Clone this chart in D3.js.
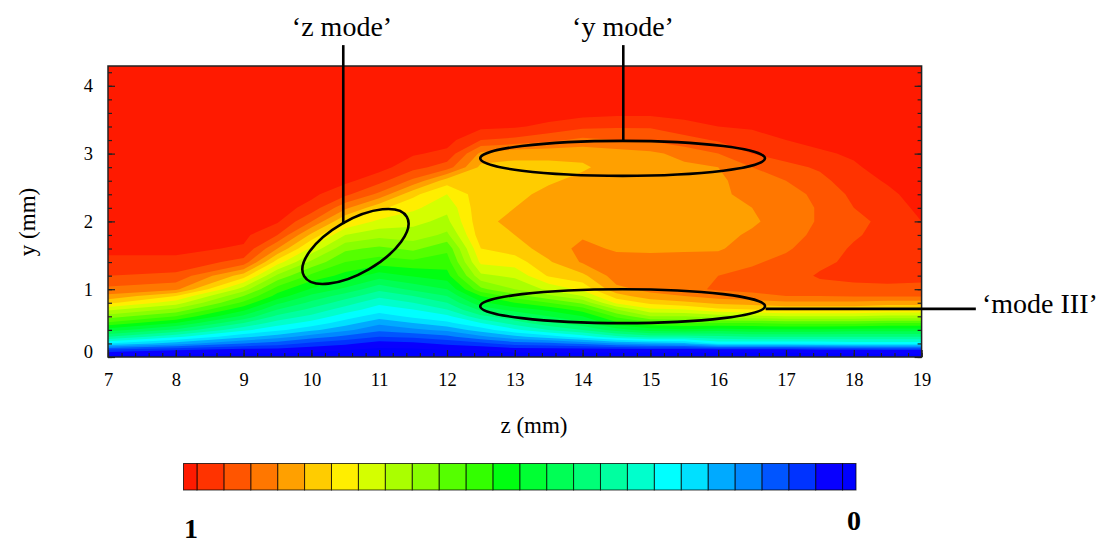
<!DOCTYPE html>
<html>
<head>
<meta charset="utf-8">
<script src="https://cdn.jsdelivr.net/npm/d3@7"></script>
<style>
  body { margin: 0; background: #fff; }
  text { font-family: "Liberation Serif", serif; fill: #000; }
</style>
</head>
<body>
<div class="chart"></div>
<script>
// grid of the contour field, values in percent (100 = "1" on the colour bar)
const zColumns = [7, 8, 9, 9.5, 10, 10.5, 11, 11.5, 12, 12.5, 13, 13.5, 14, 14.5, 15, 15.5, 16, 16.5, 17, 17.5, 18, 18.5, 19];
const yRows = [0, .1, .2, .3, .4, .5, .6, .7, .8, .9, 1, 1.2, 1.4, 1.6, 1.8, 2, 2.2, 2.4, 2.6, 2.8, 3, 3.2, 3.4, 3.6, 3.8, 4.3];

// one line per z column, bottom row first
const fieldByColumn = [
  [0,8,26,38,48,57,64,71,79,85,89, 94,97,99,100, 100,100,100,100,100, 100,100,100,100,100,100],
  [0,6,20,31,41,50,58,65,72,78,87, 93,97,99,100, 100,100,100,100,100, 100,100,100,100,100,100],
  [0,4,14,23,31,38,45,51,57,62,68, 80,92.5,97.5,99, 100,100,100,100,100, 100,100,100,100,100,100],
  [0,4,12,20,27,32,37,42,47,52.5,56, 65,76,86,94, 98.5,100,100,100,100, 100,100,100,100,100,100],
  [0,3,9,16,23,28.5,33,37,41,45,49.5, 57,65,73,81, 90,96.5,99,100,100, 100,100,100,100,100,100],
  [0,2,7,13,19,24,28,32,36,40,45, 52.5,58,63,70, 78,87,95,99,100, 100,100,100,100,100,100],
  [0,1,4,10,15,19,24,28,31,35,39, 48,56,61,67.5, 73,79,89,95.5,99.5, 100,100,100,100,100,100],
  [0,1,5,11,17,22,27,30,34,38,43, 50.5,57,63,68.5, 71,75,79,89,95.5, 98.5,100,100,100,100,100],
  [0,2,7,13,19,25,29,34,38,42,46, 52.5,56,59,65, 69,71,74,80,92, 97,99.5,100,100,100,100],
  [0,2,9,17,24,30,37,43,49,54,61, 69,75,78,80.5, 81,81,80.5,80.5,81, 85,94,99,100,100,100],
  [0,3,12,21,29,36,41,48,54,60,66, 71,76,80,82, 83,82,81,81,81, 83,93,98.5,100,100,100],
  [0,3,13,24,34,41,46,51,58,65,71, 78.5,81.5,84,85, 85,84,83,81.5,81, 83,91,97,100,100,100],
  [0,3,15,28,38,45,50,56,63,70,75, 81,86.5,87,85.5, 85,85,84,83,81.5, 83,89,95,99.5,100,100],
  [0,3,18,33,44,53,59,66,75,80,85, 88,87.5,85.5,85, 84.5,84,84,83.5,83.5, 84,90,94.5,99,100,100],
  [0,3,20,36,48,57,66,73,79,85,87, 89,87,85.5,85, 84.5,84.5,84,84,84, 85,90.5,94.5,99,100,100],
  [0,3,21,36,49,58,66,74,81,86,89, 89.5,87.5,85.5,85, 84.5,84.5,84.5,84.5,85, 87.5,92.5,96.5,99.5,100,100],
  [0,3,27,37,48,58,68,77,83,88,90.5, 90,88,85.5,85, 85,85,85,85,86, 90,94.5,98,100,100,100],
  [0,3,27,38,49,58,69,78,84,89,91, 91,89.5,88,86.5, 85.5,86,87.5,88.5,90, 94,96.5,98.5,100,100,100],
  [0,3,27,38,49,59,70,79,85,90,92, 92,91,89.5,88.5, 87.5,87.5,88.5,90,93, 95.5,98,99,100,100,100],
  [0,4,27,38,49,59,70,79,85,90,92.5, 94.5,93,92,91, 90.5,90.5,91,93,94.5, 97.5,99,100,100,100,100],
  [0,4,28,38,48,59,70,79,85,90.5,93, 95,95,94.5,93.5, 92.5,94,95,96,97.5, 98.5,100,100,100,100,100],
  [0,5,28,38,48,58,69,78,84,90.5,93, 95.5,96,96,95.5, 95.5,96,97,98.5,99.5, 100,100,100,100,100,100],
  [0,5,28,38,48,58,69,78,84,90.5,93, 95,96,96.5,97, 98,99,100,100,100, 100,100,100,100,100,100]
];

// bands from value 0 up to value 1
const bandColors = ['#0000ff', '#0800ff', '#0033ff', '#0055ff', '#0088ff', '#00aaff', '#00e0ff', '#00ffff', '#00ffcc', '#00ffa0',
  '#00ff77', '#00ff55', '#00ff33', '#00ff11', '#33ff00', '#55ff00', '#88ff00', '#aaff00', '#d4ff00', '#ffee00',
  '#ffcc00', '#ffa000', '#ff7700', '#ff5500', '#ff3300', '#ff1a00'];
const bandStep = 4;

const zTicks = [7, 8, 9, 10, 11, 12, 13, 14, 15, 16, 17, 18, 19];
const yTicks = [0, 1, 2, 3, 4];
const zMinorTicks = d3.range(7, 19.01, .2);
const yMinorTicks = d3.range(0, 4.21, .2);

// annotations: [z, y] of centre, half axes in mm, tilt in degrees
const ellipses = [
  { z: 14.59, y: 2.93, rz: 2.1, ry: .258, tilt: 0 },
  { z: 14.59, y: .75, rz: 2.1, ry: .25, tilt: 0 },
  { z: 10.65, y: 1.63, rz: .875, ry: .39, tilt: -30 }
];

const margin = { left: 108, top: 66 };
const width = 813.6;
const height = 291;

const svg = d3.select('.chart')
  .append('svg')
  .attr('width', 1112)
  .attr('height', 543)
  .style('display', 'block');

const plot = svg.append('g')
  .attr('transform', `translate(${margin.left}, ${margin.top})`);

const zScale = d3.scaleLinear().domain([7, 19]).range([0, width]);
const yScale = d3.scaleLinear().domain([0, 4.2920]).range([height, 0]);

const clipId = 'plot-clip';
svg.append('clipPath').attr('id', clipId)
  .append('rect').attr('width', width).attr('height', height);

// d3.contours puts grid values at index + 0.5
const columnIndex = d3.scaleLinear().domain(d3.range(zColumns.length)).range(zColumns).clamp(true);
const rowIndex = d3.scaleLinear().domain(d3.range(yRows.length)).range(yRows).clamp(true);
const gridPath = d3.geoPath(d3.geoTransform({
  point(x, y) {
    this.stream.point(zScale(columnIndex(x - .5)), yScale(rowIndex(y - .5)));
  }
}));

const nx = zColumns.length;
const ny = yRows.length;
const flatField = [];
yRows.forEach((r, j) => zColumns.forEach((c, i) => flatField.push(fieldByColumn[i][j])));

const thresholds = d3.range(1, bandColors.length).map(k => k * bandStep - bandStep / 2);
const bands = d3.contours().size([nx, ny]).smooth(true).thresholds(thresholds)(flatField);

const field = plot.append('g').attr('clip-path', `url(#${clipId})`);
field.append('rect')
  .attr('width', width)
  .attr('height', height)
  .attr('fill', bandColors[0]);
field.selectAll('path')
  .data(bands)
  .enter()
  .append('path')
  .attr('d', gridPath)
  .attr('fill', (d, i) => bandColors[i + 1]);

// inward ticks
const tickColor = '#222';
const addAxis = (axis, transform, cls) => {
  const g = plot.append('g').attr('transform', transform).call(axis);
  g.select('.domain').remove();
  g.selectAll('line').attr('stroke', tickColor).attr('stroke-width', 1.2);
  g.selectAll('text').style('font-family', '"Liberation Serif", serif').style('font-size', '18.5px').attr('fill', '#000');
  return g;
};
addAxis(d3.axisBottom(zScale).tickValues(zMinorTicks).tickSize(-4).tickFormat(''), `translate(0, ${height})`);
addAxis(d3.axisLeft(yScale).tickValues(yMinorTicks).tickSize(-4).tickFormat(''), 'translate(0, 0)');
addAxis(d3.axisRight(yScale).tickValues(yMinorTicks).tickSize(-4).tickFormat(''), `translate(${width}, 0)`);
addAxis(d3.axisRight(yScale).tickValues(yTicks).tickSize(-7).tickFormat(''), `translate(${width}, 0)`);

const zAxis = addAxis(d3.axisBottom(zScale).tickValues(zTicks).tickSize(-7).tickPadding(16).tickFormat(d3.format('d')), `translate(0, ${height})`);
const yAxis = addAxis(d3.axisLeft(yScale).tickValues(yTicks).tickSize(-7).tickPadding(15).tickFormat(d3.format('d')), 'translate(0, 0)');
yAxis.selectAll('text').filter(d => d === 0).attr('dy', '-0.0em');

plot.append('rect')
  .attr('width', width)
  .attr('height', height)
  .attr('fill', 'none')
  .attr('stroke', tickColor)
  .attr('stroke-width', 1.5);

svg.append('text')
  .attr('x', 534)
  .attr('y', 433)
  .attr('text-anchor', 'middle')
  .attr('font-size', 23)
  .text('z (mm)');
svg.append('text')
  .attr('transform', 'translate(35, 222) rotate(-90)')
  .attr('text-anchor', 'middle')
  .attr('font-size', 23)
  .text('y (mm)');

// annotations
const marks = plot.append('g').attr('fill', 'none').attr('stroke', '#000').attr('stroke-width', 2.6);
marks.selectAll('ellipse')
  .data(ellipses)
  .enter()
  .append('ellipse')
  .attr('rx', d => zScale(d.z + d.rz) - zScale(d.z))
  .attr('ry', d => yScale(d.y - d.ry) - yScale(d.y))
  .attr('transform', d => `translate(${zScale(d.z)}, ${yScale(d.y)}) rotate(${d.tilt})`);

const leaders = [
  { x1: 10.47, y1: 4.6, x2: 10.47, y2: 1.96 },
  { x1: 14.6, y1: 4.6, x2: 14.6, y2: 3.19 },
  { x1: 16.7, y1: .71, x2: 19.8, y2: .71 }
];
marks.selectAll('line')
  .data(leaders)
  .enter()
  .append('line')
  .attr('x1', d => zScale(d.x1))
  .attr('y1', d => yScale(d.y1))
  .attr('x2', d => zScale(d.x2))
  .attr('y2', d => yScale(d.y2));

const labels = [
  { text: '‘z mode’', x: 342, y: 36, anchor: 'middle' },
  { text: '‘y mode’', x: 623, y: 36, anchor: 'middle' },
  { text: '‘mode III’', x: 982, y: 313, anchor: 'start' }
];
svg.selectAll('text.note')
  .data(labels)
  .enter()
  .append('text')
  .attr('class', 'note')
  .attr('x', d => d.x)
  .attr('y', d => d.y)
  .attr('text-anchor', d => d.anchor)
  .attr('font-size', 28)
  .text(d => d.text);

// colour bar, value 1 on the left
const barScale = d3.scaleLinear().domain([100, 0]).range([183.5, 856]);
const bar = svg.append('g');
bar.selectAll('rect')
  .data(bandColors)
  .enter()
  .append('rect')
  .attr('x', (d, k) => barScale(Math.min(100, k * bandStep + bandStep / 2)))
  .attr('y', 463.5)
  .attr('width', (d, k) => barScale(Math.max(0, k * bandStep - bandStep / 2)) - barScale(Math.min(100, k * bandStep + bandStep / 2)))
  .attr('height', 26.5)
  .attr('fill', d => d)
  .attr('stroke', '#000')
  .attr('stroke-opacity', .75)
  .attr('stroke-width', 1);

svg.append('text').attr('x', 191).attr('y', 538).attr('text-anchor', 'middle')
  .attr('font-size', 28).attr('font-weight', 'bold').text('1');
svg.append('text').attr('x', 854).attr('y', 530).attr('text-anchor', 'middle')
  .attr('font-size', 28).attr('font-weight', 'bold').text('0');
</script>
</body>
</html>
